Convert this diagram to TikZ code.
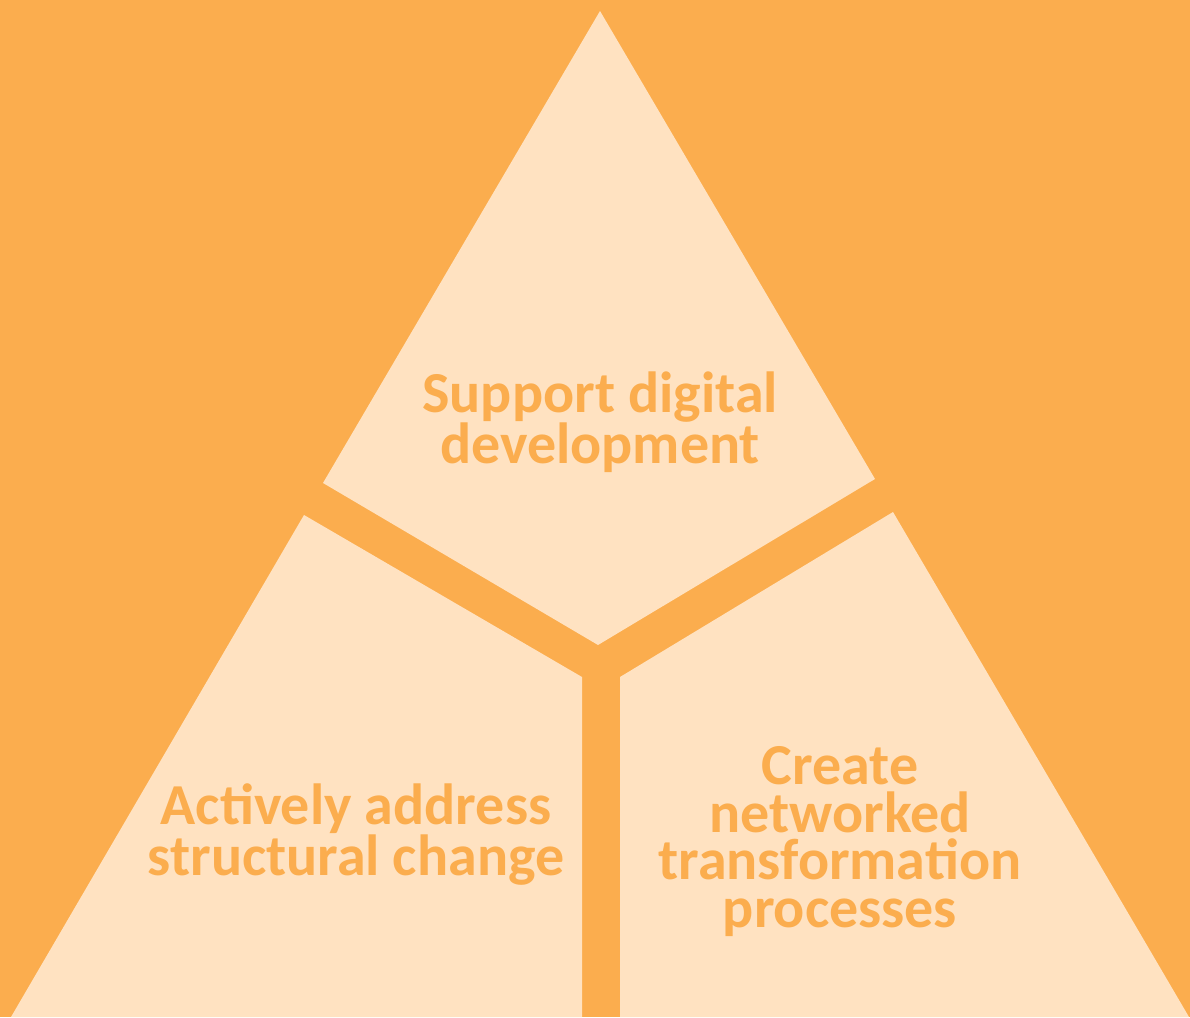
\documentclass[tikz,border=0pt]{standalone}
\usepackage{fontspec}
\setmainfont{Carlito}
\begin{document}
\begin{tikzpicture}[x=1pt,y=1pt,
  facet/.style={fill=peach,draw=none},
  label/.style={text=amber,align=center,anchor=base,
    font=\fontsize{58}{47.5}\selectfont\bfseries}]
\definecolor{amber}{HTML}{FBAD4E}
\definecolor{peach}{HTML}{FFE2C1}
% background
\fill[amber] (0,0) rectangle (1190,1017);
\useasboundingbox (0,0) rectangle (1190,1017);
% three facets of the triangle
\fill[facet] (600,1006) -- (323,534) -- (598,372) -- (875,538) -- cycle;
\fill[facet] (304,502) -- (582,340) -- (582,0) -- (11,0) -- cycle;
\fill[facet] (893,505) -- (620,340) -- (620,0) -- (1189,0) -- cycle;
% labels (anchored at the baseline of the last line)
\node[label] (top) at (600,553) {Support digital\\development};
\node[label] (left) at (356,142) {Actively address\\structural change};
\node[label] (right) at (840,90) {Create\\networked\\transformation\\processes};
\end{tikzpicture}
\end{document}
